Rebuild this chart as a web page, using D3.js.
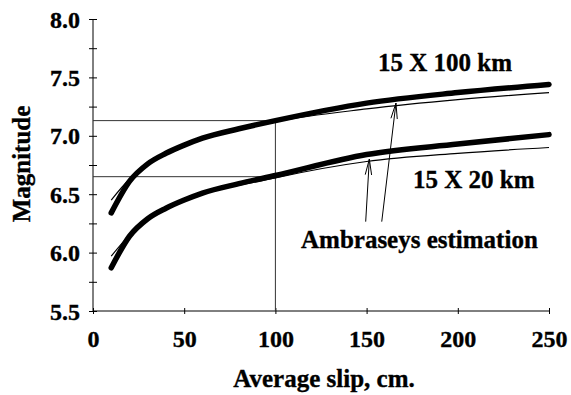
<!DOCTYPE html>
<html>
<head>
<meta charset="utf-8">
<script src="https://cdnjs.cloudflare.com/ajax/libs/d3/7.8.5/d3.min.js"></script>
<style>
  html, body { margin: 0; padding: 0; background: #fff; }
  svg { display: block; }
</style>
</head>
<body>
<svg id="chart" width="571" height="395"></svg>
<script>
// ---- data ----
const slip = [10, 20, 30, 40, 50, 60, 80, 100, 150, 200, 250];
const mag100 = [6.34, 6.61, 6.76, 6.85, 6.92, 6.98, 7.06, 7.13, 7.28, 7.37, 7.44];
const mag20 = [5.87, 6.14, 6.29, 6.38, 6.45, 6.51, 6.59, 6.66, 6.84, 6.93, 7.01];
const ambSlip = [10, 20, 30, 50, 100, 150, 200, 250];
const amb100 = [6.45, 6.63, 6.76, 6.92, 7.12, 7.23, 7.31, 7.37];
const amb20 = [5.97, 6.15, 6.28, 6.44, 6.64, 6.78, 6.85, 6.90];
const xTicks = [0, 50, 100, 150, 200, 250];
const yTicks = [5.5, 6.0, 6.5, 7.0, 7.5, 8.0];
const yMinorTicks = [5.5, 5.75, 6.0, 6.25, 6.5, 6.75, 7.0, 7.25, 7.5, 7.75, 8.0];
const refSlip = 100;
const refMag = [7.13, 6.65];
// arrows: [fromSlip, fromMag, toSlip, toMag]
const arrows = [[149.5, 6.265, 151.5, 6.80], [158.3, 6.265, 166.1, 7.28]];
const labels = [
  {text: "15 X 100 km", x: 378, y: 71},
  {text: "15 X 20 km", x: 413, y: 188},
  {text: "Ambraseys estimation", x: 301, y: 248}
];
const xTitle = "Average slip, cm.";
const yTitle = "Magnitude";

const FONT = '"Liberation Serif", "Times New Roman", Times, serif';

// ---- scales ----
const svg = d3.select("#chart");
const x = d3.scaleLinear().domain([0, 250]).range([93, 549]);
const y = d3.scaleLinear().domain([5.5, 8]).range([311, 19]);

function styleText(sel, size) {
  sel.attr("font-family", FONT).style("font-family", FONT)
     .attr("font-weight", "bold").style("font-weight", "bold")
     .style("font-size", size + "px").attr("fill", "#000")
     .attr("stroke", "#000").attr("stroke-width", 0.35);
}

// ---- axes ----
const gy = svg.append("g").attr("transform", `translate(${x(0)},0)`);
gy.call(d3.axisLeft(y).tickValues(yMinorTicks).tickSize(4).tickFormat(""));
gy.selectAll(".tick line").attr("x1", -4).attr("x2", 4).attr("stroke", "#000");
gy.select(".domain").attr("d", `M0,${y(8)}V${y(5.5)}`).attr("stroke", "#000");
const gyl = svg.append("g").attr("transform", `translate(${x(0)},0)`);
gyl.call(d3.axisLeft(y).tickValues(yTicks).tickSize(0).tickPadding(13).tickFormat(d3.format(".1f")));
gyl.select(".domain").remove();
gyl.attr("font-family", null);
styleText(gyl.selectAll("text").attr("dy", "0.34em"), 24);

const gx = svg.append("g").attr("transform", `translate(0,${y(5.5)})`);
gx.call(d3.axisBottom(x).tickValues(xTicks).tickSize(3).tickFormat(""));
gx.selectAll(".tick line").attr("y1", -3).attr("y2", 3).attr("stroke", "#000");
gx.select(".domain").attr("d", `M${x(0)},0H${x(250)}`).attr("stroke", "#000");
const gxl = svg.append("g").attr("transform", `translate(0,${y(5.5)})`);
gxl.call(d3.axisBottom(x).tickValues(xTicks).tickSize(0).tickPadding(19).tickFormat(d3.format("d")));
gxl.select(".domain").remove();
gxl.attr("font-family", null);
styleText(gxl.selectAll("text"), 24);

// ---- reference lines ----
refMag.forEach(m => {
  svg.append("line")
    .attr("x1", x(0)).attr("x2", x(refSlip))
    .attr("y1", y(m)).attr("y2", y(m))
    .attr("stroke", "#333").attr("stroke-width", 1);
});
svg.append("line")
  .attr("x1", x(refSlip)).attr("x2", x(refSlip))
  .attr("y1", y(refMag[0])).attr("y2", y(5.5))
  .attr("stroke", "#333").attr("stroke-width", 1);

// ---- curves ----
const line = d3.line().x(d => x(d[0])).y(d => y(d[1])).curve(d3.curveMonotoneX);
[amb100, amb20].forEach(s => {
  svg.append("path").datum(ambSlip.map((v, i) => [v, s[i]]))
    .attr("d", line).attr("fill", "none").attr("stroke", "#000").attr("stroke-width", 1.2);
});
[mag100, mag20].forEach(s => {
  svg.append("path").datum(slip.map((v, i) => [v, s[i]]))
    .attr("d", line).attr("fill", "none").attr("stroke", "#000")
    .attr("stroke-width", 5.5).attr("stroke-linecap", "round");
});

// ---- arrows ----
arrows.forEach(a => {
  const x0 = x(a[0]), y0 = y(a[1]), x1 = x(a[2]), y1 = y(a[3]);
  svg.append("line").attr("x1", x0).attr("y1", y0).attr("x2", x1).attr("y2", y1)
    .attr("stroke", "#000").attr("stroke-width", 1);
  const ang = Math.atan2(y0 - y1, x0 - x1);
  const len = 16, spread = 0.2;
  [ang - spread, ang + spread].forEach(t => {
    svg.append("line").attr("x1", x1).attr("y1", y1)
      .attr("x2", x1 + len * Math.cos(t)).attr("y2", y1 + len * Math.sin(t))
      .attr("stroke", "#000").attr("stroke-width", 1);
  });
});

// ---- text labels ----
labels.forEach(l => {
  styleText(svg.append("text").attr("x", l.x).attr("y", l.y).text(l.text), 25);
});
styleText(svg.append("text").attr("x", 324).attr("y", 387).attr("text-anchor", "middle").text(xTitle), 25);
styleText(svg.append("text").attr("transform", "translate(30,164) rotate(-90)").attr("text-anchor", "middle").text(yTitle), 25);
</script>
</body>
</html>
